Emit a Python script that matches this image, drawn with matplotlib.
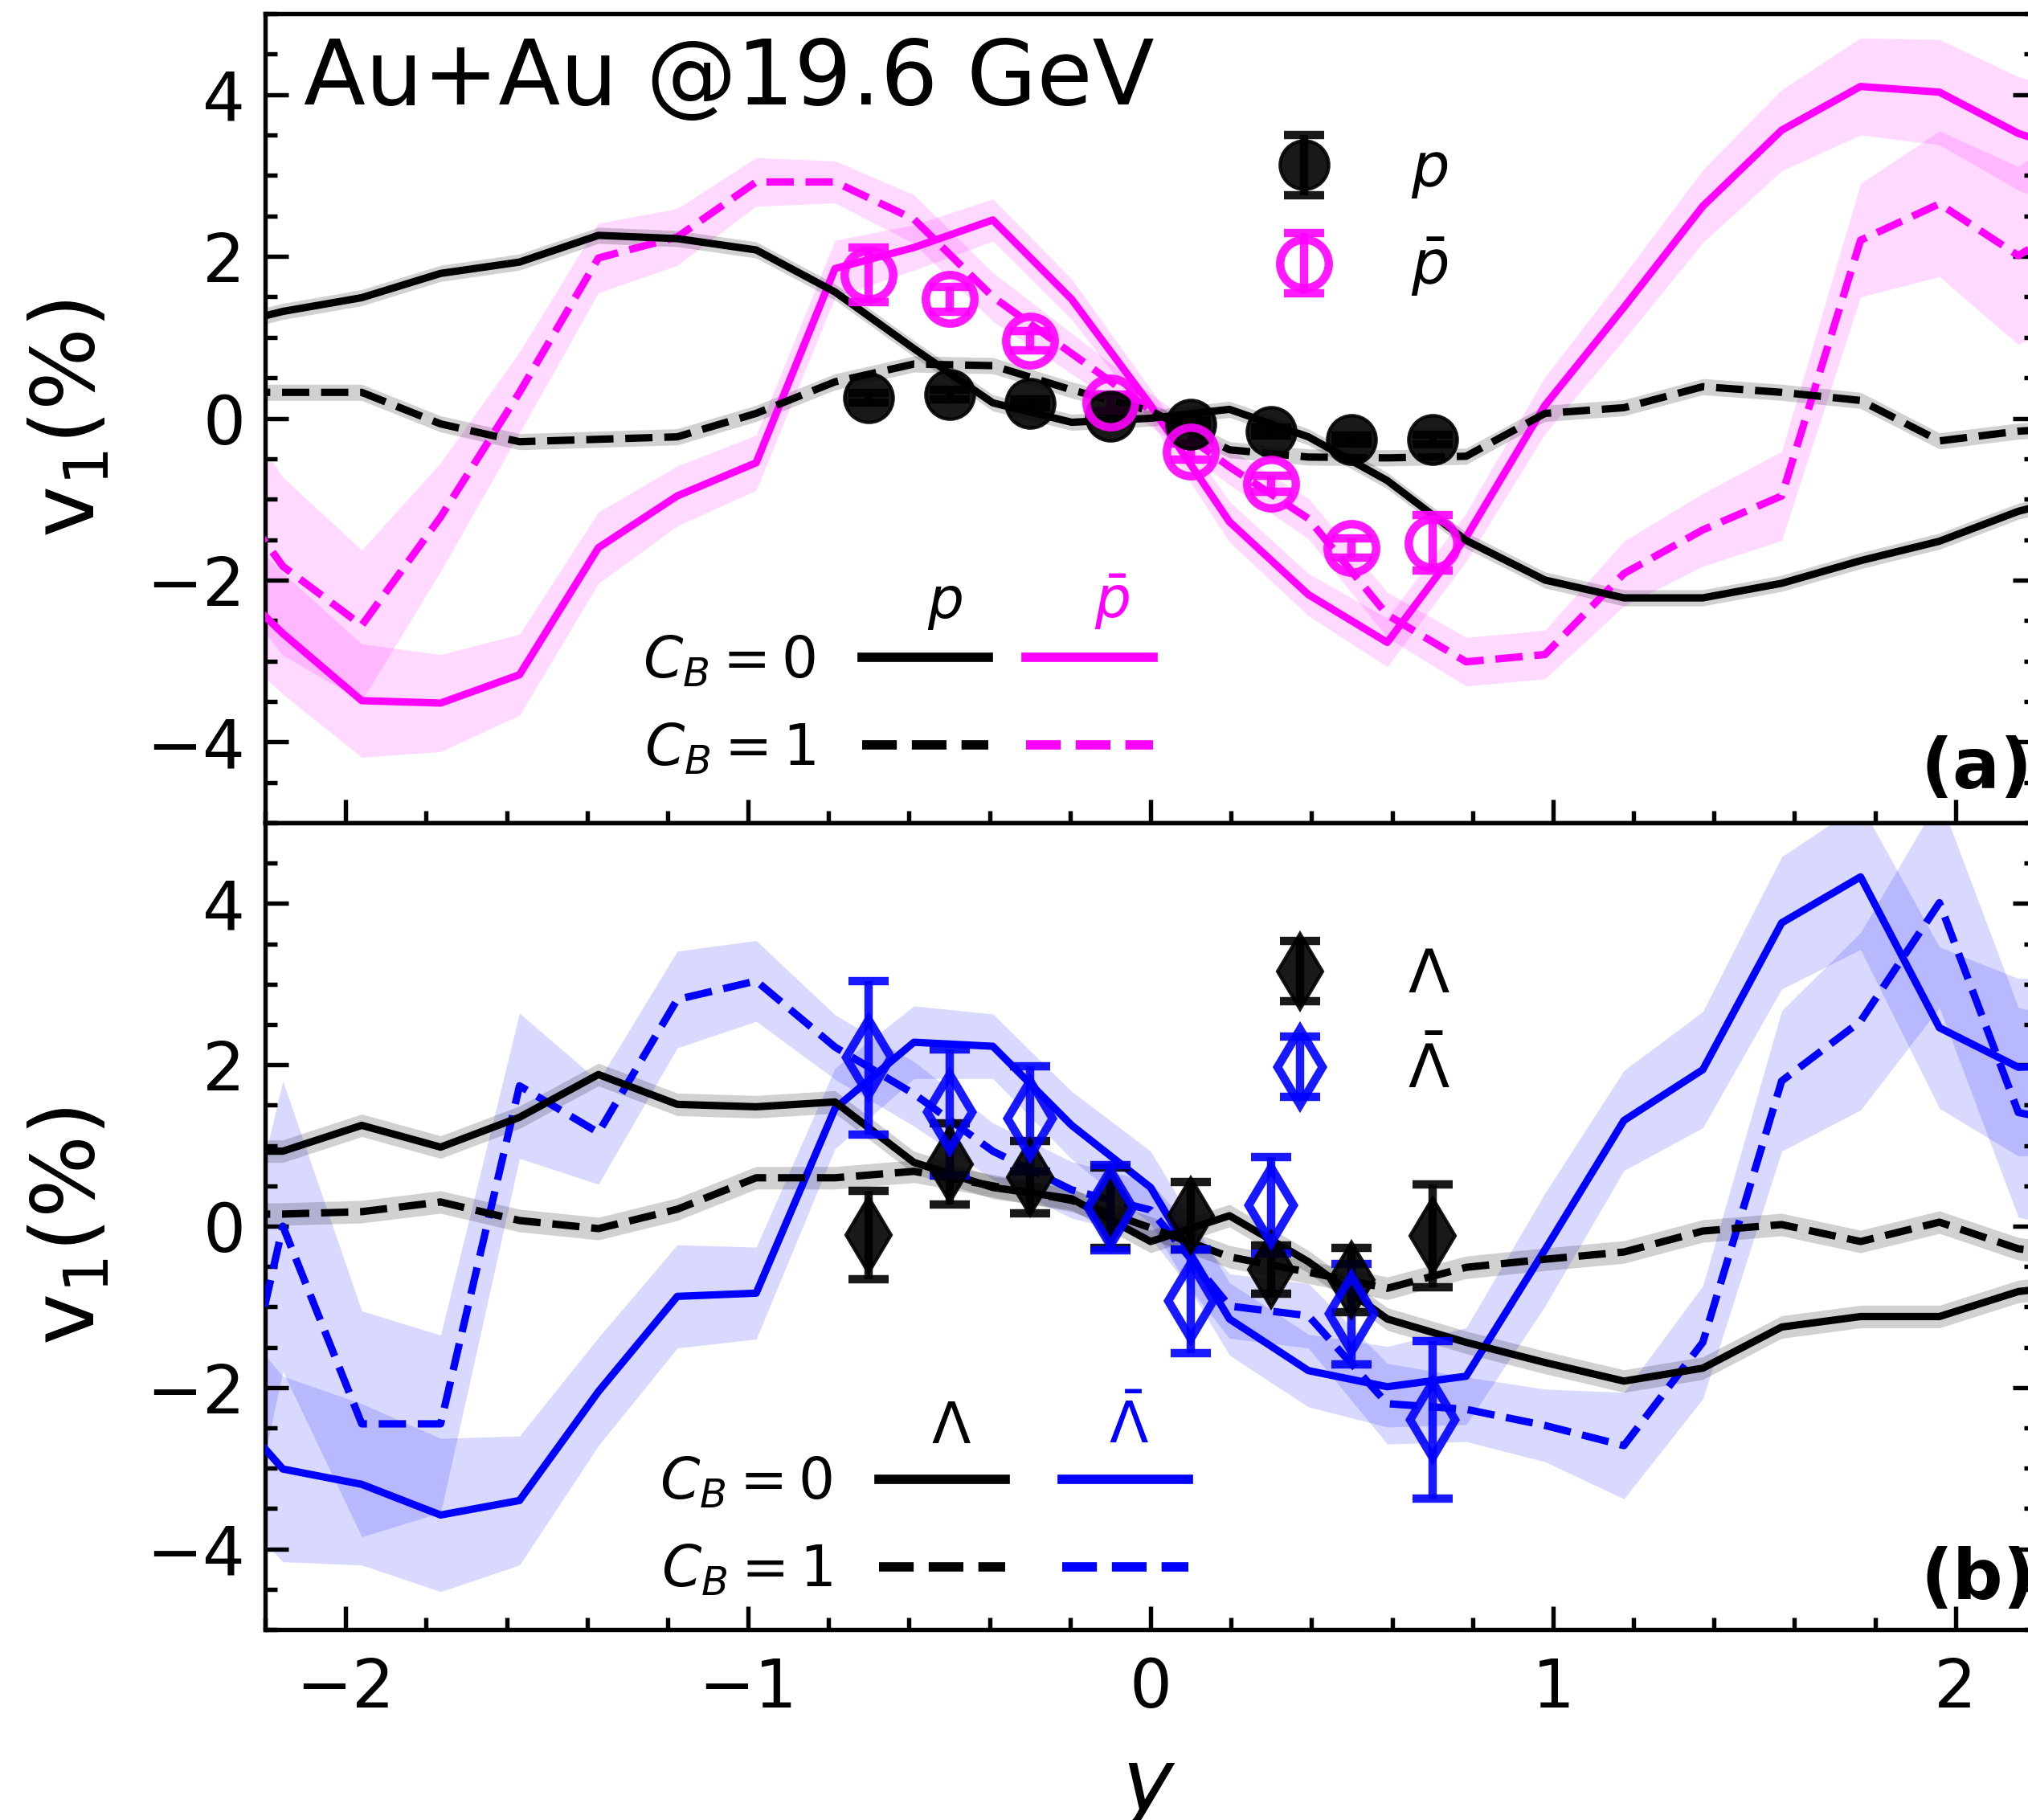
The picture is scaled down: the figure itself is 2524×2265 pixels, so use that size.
import matplotlib
matplotlib.use("Agg")
import matplotlib.pyplot as plt
from matplotlib.lines import Line2D
from matplotlib.legend_handler import HandlerTuple
from matplotlib.ticker import MultipleLocator

# rapidity grid of the model curves
y_model = [-2.352, -2.156, -1.96, -1.764, -1.568, -1.372, -1.176, -0.98, -0.784, -0.588,
           -0.392, -0.196, 0.0, 0.196, 0.392, 0.588, 0.784, 0.98, 1.176, 1.372,
           1.568, 1.764, 1.96, 2.156, 2.352]

# panel (a): protons / antiprotons, model
p_cb0 = [1.08, 1.32, 1.49, 1.79, 1.93, 2.26, 2.22, 2.08, 1.56, 0.86, 0.19, -0.05, 0.0,
         0.11, -0.23, -0.77, -1.51, -2.0, -2.22, -2.22, -2.04, -1.76, -1.52, -1.15, -0.9]
p_cb1 = [0.32, 0.32, 0.32, -0.07, -0.29, -0.26, -0.23, 0.06, 0.45, 0.67, 0.65, 0.35, 0.09,
         -0.39, -0.48, -0.49, -0.47, 0.06, 0.13, 0.39, 0.32, 0.22, -0.28, -0.16, -0.1]
pbar_cb0 = [-1.72, -2.66, -3.49, -3.52, -3.17, -1.6, -0.96, -0.55, 1.85, 2.11, 2.45, 1.47, 0.16,
            -1.28, -2.18, -2.77, -1.47, 0.16, 1.37, 2.62, 3.56, 4.1, 4.03, 3.52, 3.2]
pbar_cb1 = [-0.48, -1.83, -2.56, -1.22, 0.32, 1.98, 2.24, 2.92, 2.92, 2.46, 1.5, 0.8, 0.1,
            -0.6, -1.24, -2.43, -3.01, -2.92, -1.92, -1.38, -0.96, 2.2, 2.65, 2.01, 2.6]
pbar_cb0_err = [0.8, 0.75, 0.7, 0.6, 0.5, 0.44, 0.37, 0.34, 0.35, 0.28, 0.26, 0.25, 0.2,
                0.25, 0.26, 0.3, 0.3, 0.35, 0.4, 0.45, 0.5, 0.6, 0.65, 0.7, 0.75]
pbar_cb1_err = [1.2, 1.1, 0.93, 0.67, 0.5, 0.43, 0.35, 0.3, 0.26, 0.3, 0.3, 0.25, 0.2,
                0.22, 0.25, 0.28, 0.3, 0.3, 0.4, 0.45, 0.55, 0.7, 0.9, 1.1, 1.2]
p_err_a = 0.1

# panel (b): lambdas / antilambdas, model
l_cb0 = [0.93, 0.93, 1.25, 0.98, 1.35, 1.88, 1.51, 1.48, 1.54, 0.79, 0.48, 0.34, -0.19,
         0.13, -0.44, -1.15, -1.44, -1.69, -1.92, -1.76, -1.25, -1.12, -1.12, -0.81, -0.7]
l_cb1 = [0.15, 0.15, 0.18, 0.3, 0.07, -0.03, 0.21, 0.6, 0.6, 0.68, 0.5, 0.32, -0.02,
         -0.38, -0.57, -0.77, -0.51, -0.41, -0.32, -0.06, 0.02, -0.19, 0.05, -0.28, -0.4]
lbar_cb0 = [-1.9, -3.01, -3.2, -3.58, -3.4, -2.05, -0.87, -0.83, 1.46, 2.28, 2.23, 1.25, 0.48,
            -1.15, -1.79, -1.99, -1.86, -0.29, 1.31, 1.94, 3.76, 4.33, 2.46, 1.97, 2.0]
lbar_cb1 = [-4.3, 0.0, -2.45, -2.45, 1.74, 1.16, 2.81, 3.04, 2.22, 1.64, 0.93, 0.45, 0.2,
            -0.99, -1.11, -2.2, -2.27, -2.47, -2.72, -1.44, 1.8, 2.54, 4.01, 1.41, 1.2]
lbar_cb0_err = [1.2, 1.15, 1.0, 0.95, 0.8, 0.67, 0.64, 0.57, 0.5, 0.45, 0.4, 0.42, 0.45,
                0.45, 0.45, 0.5, 0.6, 0.7, 0.62, 0.72, 0.82, 0.9, 1.0, 1.1, 1.1]
lbar_cb1_err = [2.0, 1.8, 1.4, 1.1, 0.9, 0.64, 0.6, 0.5, 0.4, 0.4, 0.35, 0.35, 0.35,
                0.4, 0.4, 0.5, 0.4, 0.45, 0.66, 0.7, 0.87, 1.1, 1.3, 1.3, 1.3]
l_err_b = 0.14

# measured points
y_data = [-0.7, -0.5, -0.3, -0.1, 0.1, 0.3, 0.5, 0.7]
p_data = [0.25, 0.29, 0.18, 0.02, -0.07, -0.16, -0.26, -0.26]
p_data_err = [0.06, 0.06, 0.05, 0.05, 0.05, 0.05, 0.05, 0.06]
pbar_data = [1.77, 1.47, 0.96, 0.19, -0.41, -0.81, -1.6, -1.54]
pbar_data_err = [0.34, 0.15, 0.12, 0.1, 0.1, 0.1, 0.12, 0.34]
l_data = [-0.11, 0.77, 0.61, 0.23, 0.13, -0.54, -0.67, -0.12]
l_data_err = [0.55, 0.5, 0.45, 0.5, 0.42, 0.3, 0.4, 0.64]
lbar_data = [2.09, 1.41, 1.33, 0.23, -0.93, 0.26, -1.09, -2.4]
lbar_data_err = [0.95, 0.78, 0.65, 0.53, 0.64, 0.6, 0.62, 0.98]

plt.rcParams["font.family"] = "DejaVu Sans"
plt.rcParams["mathtext.fontset"] = "dejavusans"

W, H = 2524, 2265
fig = plt.figure(figsize=(W / 300, H / 300), dpi=300)
ax_a = fig.add_axes([330 / W, 1 - 1024 / H, 2204 / W, 1007 / H])
ax_b = fig.add_axes([330 / W, 1 - 2028 / H, 2204 / W, 1004 / H])


def draw_curve(ax, v, err, color, alpha, ls):
    lo = [a - e for a, e in zip(v, err)]
    hi = [a + e for a, e in zip(v, err)]
    ax.fill_between(y_model, lo, hi, color=color, alpha=alpha, lw=0, zorder=1)
    ax.plot(y_model, v, color=color, ls=ls, lw=2.2, zorder=3)


def const(e):
    return [e] * len(y_model)


eb_kw = dict(capsize=6, elinewidth=2.5, capthick=2.5, alpha=0.9, zorder=5, ls="none")

# panel (a)
draw_curve(ax_a, pbar_cb0, pbar_cb0_err, "magenta", 0.15, "-")
draw_curve(ax_a, pbar_cb1, pbar_cb1_err, "magenta", 0.15, "--")
draw_curve(ax_a, p_cb0, const(p_err_a), "k", 0.18, "-")
draw_curve(ax_a, p_cb1, const(p_err_a), "k", 0.18, "--")
eb_p = ax_a.errorbar(y_data, p_data, yerr=p_data_err, marker="o", ms=14.5, color="k", **eb_kw)
eb_pbar = ax_a.errorbar(y_data, pbar_data, yerr=pbar_data_err, marker="o", ms=14.5,
                        color="magenta", mfc="none", mec="magenta", mew=2.5, **eb_kw)

# panel (b)
draw_curve(ax_b, lbar_cb0, lbar_cb0_err, "blue", 0.15, "-")
draw_curve(ax_b, lbar_cb1, lbar_cb1_err, "blue", 0.15, "--")
draw_curve(ax_b, l_cb0, const(l_err_b), "k", 0.18, "-")
draw_curve(ax_b, l_cb1, const(l_err_b), "k", 0.18, "--")
eb_l = ax_b.errorbar(y_data, l_data, yerr=l_data_err, marker="d", ms=16, color="k", **eb_kw)
eb_lbar = ax_b.errorbar(y_data, lbar_data, yerr=lbar_data_err, marker="d", ms=16,
                        color="blue", mfc="none", mec="blue", mew=2.5, **eb_kw)

for ax in (ax_a, ax_b):
    ax.set_xlim(-2.2, 2.2)
    ax.set_ylim(-5, 5)
    ax.xaxis.set_major_locator(MultipleLocator(1))
    ax.xaxis.set_minor_locator(MultipleLocator(0.2))
    ax.yaxis.set_major_locator(MultipleLocator(2))
    ax.yaxis.set_minor_locator(MultipleLocator(0.5))
    ax.tick_params(which="both", direction="in", top=False, right=True, width=1.3, labelsize=20)
    ax.tick_params(which="major", length=7)
    ax.tick_params(which="minor", length=3.5)
    ax.tick_params(axis="y", pad=6)
    ax.tick_params(axis="x", pad=8)
    for s in ax.spines.values():
        s.set_linewidth(1.3)
    ax.set_ylabel(r"$\mathrm{v_1(\%)}$", fontsize=26)
    ax.yaxis.set_label_coords(-0.086, 0.5)

ax_a.tick_params(labelbottom=False)
ax_b.set_xlabel(r"$y$", fontsize=26)
ax_b.xaxis.set_label_coords(0.4986, -0.143)

ax_a.text(0.0218, 0.888, "Au+Au @19.6 GeV", transform=ax_a.transAxes, fontsize=27, va="baseline")
ax_a.text(0.9347, 0.043, "(a)", transform=ax_a.transAxes, fontsize=21, fontweight="bold", va="baseline")
ax_b.text(0.9347, 0.038, "(b)", transform=ax_b.transAxes, fontsize=21, fontweight="bold", va="baseline")

# data legends
leg_kw = dict(frameon=False, loc="center left", borderpad=0, borderaxespad=0,
              handlelength=1.5, handletextpad=1.03, labelspacing=0.6, fontsize=18)
leg1 = ax_a.legend([eb_p, eb_pbar], [r"$p$", r"$\bar{p}$"], bbox_to_anchor=(0.561, 0.746), **leg_kw)
ax_a.add_artist(leg1)
leg3 = ax_b.legend([eb_l, eb_lbar], [r"$\Lambda$", r"$\bar{\Lambda}$"], bbox_to_anchor=(0.559, 0.751), **leg_kw)
ax_b.add_artist(leg3)


# model legends (C_B rows, particle columns)
def model_legend(ax, color, anchor, hlen, pad):
    rows = [(Line2D([], [], color="k", lw=2.8, ls="-"), Line2D([], [], color=color, lw=2.8, ls="-")),
            (Line2D([], [], color="k", lw=2.8, ls="--"), Line2D([], [], color=color, lw=2.8, ls="--"))]
    ax.legend(rows, [r"$C_B=0$", r"$C_B=1$"], handler_map={tuple: HandlerTuple(ndivide=None, pad=pad)},
              frameon=False, loc="center left", bbox_to_anchor=anchor, borderpad=0, borderaxespad=0,
              markerfirst=False, handlelength=hlen, handletextpad=0.82, labelspacing=0.56, fontsize=17)


model_legend(ax_a, "magenta", (0.2132, 0.145), 5.11, 0.66)
ax_a.text(0.384, 0.253, r"$p$", transform=ax_a.transAxes, fontsize=17, ha="center", va="baseline")
ax_a.text(0.478, 0.253, r"$\bar{p}$", transform=ax_a.transAxes, fontsize=17, ha="center", va="baseline",
          color="magenta")

model_legend(ax_b, "blue", (0.2228, 0.127), 5.44, 1.0)
ax_b.text(0.3875, 0.231, r"$\Lambda$", transform=ax_b.transAxes, fontsize=17, ha="center", va="baseline")
ax_b.text(0.4875, 0.231, r"$\bar{\Lambda}$", transform=ax_b.transAxes, fontsize=17, ha="center",
          va="baseline", color="blue")

fig.savefig("out.png", dpi=300)
